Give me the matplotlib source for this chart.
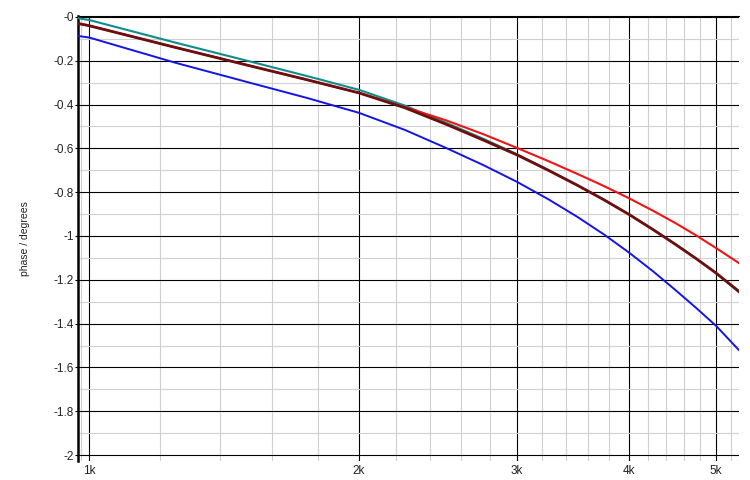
import numpy as np
import matplotlib
matplotlib.use("Agg")
import matplotlib.pyplot as plt
from matplotlib.ticker import FixedLocator, NullFormatter

# ── Data ──────────────────────────────────────────────────────────────────────
freq_hz = [972, 1000, 1250, 1500, 1750, 2000, 2250, 2500, 2750, 3000, 3250, 3500, 3750,
           4000, 4250, 4500, 4750, 5000, 5300]

phase_teal = [-0.006, -0.014, -0.118, -0.200, -0.270, -0.333, -0.405, -0.483, -0.556, -0.627,
              -0.698, -0.767, -0.834, -0.901, -0.969, -1.036, -1.103, -1.170, -1.256]
phase_blue = [-0.087, -0.094, -0.210, -0.297, -0.370, -0.438, -0.516, -0.598, -0.676, -0.753,
              -0.832, -0.912, -0.993, -1.076, -1.160, -1.245, -1.328, -1.410, -1.520]
phase_red = [-0.030, -0.040, -0.140, -0.220, -0.287, -0.347, -0.412, -0.472, -0.535, -0.598,
             -0.658, -0.716, -0.772, -0.828, -0.884, -0.940, -0.997, -1.055, -1.123]
phase_dark = [-0.030, -0.040, -0.140, -0.220, -0.287, -0.347, -0.415, -0.490, -0.562, -0.630,
              -0.700, -0.768, -0.835, -0.902, -0.970, -1.037, -1.103, -1.169, -1.252]

x_major = [1000, 2000, 3000, 4000, 5000]
x_major_labels = ["1k", "2k", "3k", "4k", "5k"]
x_minor = [980, 1200, 1400, 1600, 1800, 2200, 2400, 2600, 2800, 3200, 3400, 3600, 3800,
           4200, 4400, 4600, 4800, 5200]
y_major = [0, -0.2, -0.4, -0.6, -0.8, -1.0, -1.2, -1.4, -1.6, -1.8, -2.0]
y_major_labels = ["-0", "-0.2", "-0.4", "-0.6", "-0.8", "-1", "-1.2", "-1.4", "-1.6", "-1.8", "-2"]
y_minor = [-0.1, -0.3, -0.5, -0.7, -0.9, -1.1, -1.3, -1.5, -1.7, -1.9]

plt.rcParams["font.family"] = ["Liberation Sans", "DejaVu Sans"]

# ── Plot ──────────────────────────────────────────────────────────────────────
fig = plt.figure(figsize=(7.5, 4.8), dpi=100)
ax = fig.add_axes([0.104, 0.0396, 0.881, 0.927])

ax.plot(freq_hz, phase_teal, color="#108c8c", linewidth=1.5, zorder=3)
ax.plot(freq_hz, phase_blue, color="#1414e6", linewidth=1.4, zorder=3)
ax.plot(freq_hz, phase_red, color="#f01414", linewidth=1.5, zorder=3)
ax.plot(freq_hz, phase_dark, color="#6e0e0e", linewidth=2.0, zorder=4)

ax.set_xscale("log")
ax.set_xlim(972, 5300)
ax.set_ylim(-2.027, 0.004)

ax.xaxis.set_major_locator(FixedLocator(x_major))
ax.xaxis.set_minor_locator(FixedLocator(x_minor))
ax.set_xticklabels(x_major_labels)
ax.xaxis.set_minor_formatter(NullFormatter())
ax.yaxis.set_major_locator(FixedLocator(y_major))
ax.yaxis.set_minor_locator(FixedLocator(y_minor))
ax.set_yticklabels(y_major_labels)

ax.grid(True, which="major", color="black", linewidth=0.8, zorder=1)
ax.grid(True, which="minor", color="#d0d0d0", linewidth=0.8, zorder=0)
ax.set_axisbelow(True)

ax.tick_params(axis="x", which="both", length=0, pad=3, labelsize=8.5, labelcolor="#222222")
ax.tick_params(axis="y", which="major", length=2, pad=1, labelsize=8.5, labelcolor="#222222")
ax.tick_params(axis="y", which="minor", length=0)

for side in ["right", "bottom"]:
    ax.spines[side].set_visible(False)
ax.spines["left"].set_linewidth(1.8)
ax.spines["top"].set_linewidth(0.8)

ax.set_ylabel("phase / degrees", fontsize=7.5, color="#222222")
ax.yaxis.set_label_coords(-0.073, 0.5)

fig.savefig("out.png", dpi=100)
